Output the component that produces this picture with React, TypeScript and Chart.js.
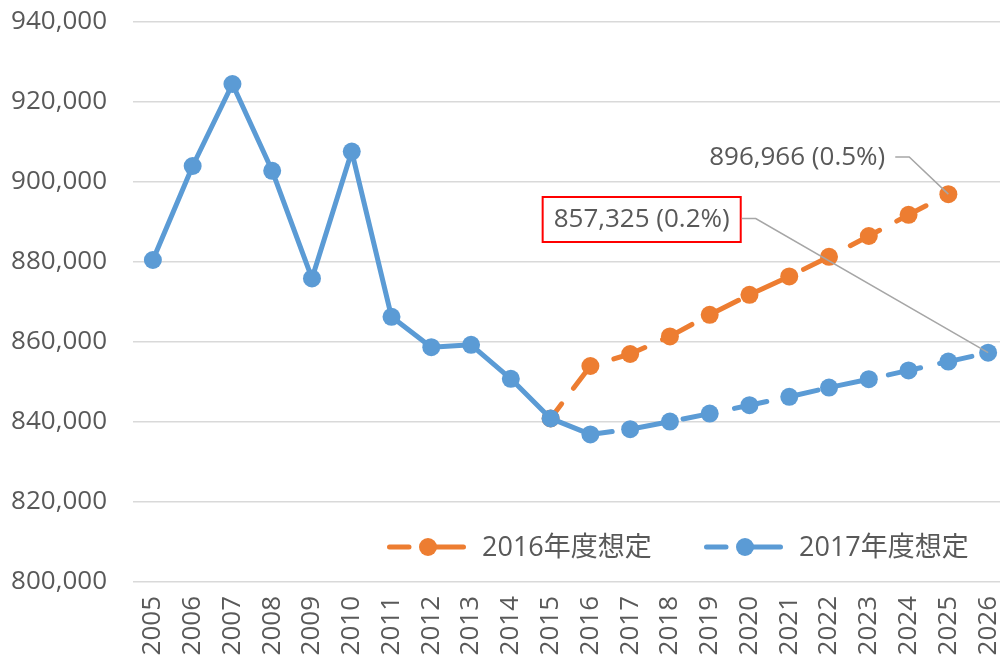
import React, { useEffect, useRef } from 'react';
import { Chart, registerables } from 'chart.js';

Chart.register(...registerables);

// ---- data ----
const years = [
  '2005', '2006', '2007', '2008', '2009', '2010', '2011', '2012', '2013', '2014', '2015',
  '2016', '2017', '2018', '2019', '2020', '2021', '2022', '2023', '2024', '2025', '2026',
];

const plan2016Name = '2016年度想定';
const plan2016 = [
  null, null, null, null, null, null, null, null, null, null, 840900,
  854000, 857000, 861400, 866800, 871800, 876400, 881300, 886500, 891800, 896966, null,
];

const plan2017Name = '2017年度想定';
const plan2017 = [
  880500, 904000, 924500, 902800, 875900, 907600, 866300, 858700, 859300, 850800, 840900,
  836900, 838200, 840100, 842100, 844200, 846300, 848600, 850700, 852900, 855100, 857325,
];

const yMin = 800000;
const yMax = 940000;
const yStep = 20000;

// callouts: which point, its growth text, where the label sits (in data units)
const calloutSeries = [0, 1];
const calloutIndex = [20, 21];
const calloutPct = ['0.5%', '0.2%'];
const calloutLabelX = [16.2, 12.29];
const calloutLabelY = [906000, 890625];
const calloutBoxed = [false, true];

// ---- style ----
const FONT = '"Open Sans", "Noto Sans CJK JP", sans-serif';
const TEXT = '#595959';
const ORANGE = '#ED7D31';
const BLUE = '#5B9BD5';
const DASH = [33, 19.5];

const overlayPlugin = {
  id: 'overlay',
  afterDatasetsDraw(chart: any) {
    const { ctx, scales, chartArea } = chart;
    const x = scales.x;
    const y = scales.y;
    const series = [plan2016, plan2017];
    ctx.save();

    // callouts
    ctx.font = `26px ${FONT}`;
    ctx.textAlign = 'center';
    ctx.textBaseline = 'middle';
    for (let i = 0; i < calloutIndex.length; i++) {
      const val = series[calloutSeries[i]][calloutIndex[i]] as number;
      const px = x.getPixelForValue(calloutIndex[i]);
      const py = y.getPixelForValue(val);
      const lx = x.getPixelForValue(calloutLabelX[i]);
      const ly = y.getPixelForValue(calloutLabelY[i]);
      const text = `${val.toLocaleString('en-US')} (${calloutPct[i]})`;
      const w = ctx.measureText(text).width;
      let rightEdge = lx + w / 2;
      let lineStart = rightEdge + 10;
      if (calloutBoxed[i]) {
        const bw = w + 22;
        const bh = 45;
        ctx.fillStyle = '#FFFFFF';
        ctx.fillRect(lx - bw / 2, ly - bh / 2, bw, bh);
        ctx.strokeStyle = '#FF0000';
        ctx.lineWidth = 2;
        ctx.strokeRect(lx - bw / 2, ly - bh / 2, bw, bh);
        rightEdge = lx + bw / 2;
        lineStart = rightEdge + 1;
      }
      ctx.fillStyle = TEXT;
      ctx.fillText(text, lx, ly);
      ctx.strokeStyle = '#A6A6A6';
      ctx.lineWidth = 1.5;
      ctx.beginPath();
      ctx.moveTo(lineStart, ly - 1);
      ctx.lineTo(lineStart + 14, ly - 1);
      ctx.lineTo(px, py);
      ctx.stroke();
    }

    // legend
    const legendY = chartArea.bottom - 35;
    const items = [
      { name: plan2016Name, color: ORANGE, x0: chartArea.left + 254 },
      { name: plan2017Name, color: BLUE, x0: chartArea.left + 571 },
    ];
    ctx.font = `27px ${FONT}`;
    ctx.textAlign = 'left';
    ctx.textBaseline = 'middle';
    for (const it of items) {
      ctx.strokeStyle = it.color;
      ctx.lineWidth = 5;
      ctx.lineCap = 'round';
      ctx.beginPath();
      ctx.moveTo(it.x0 + 2.5, legendY);
      ctx.lineTo(it.x0 + 22, legendY);
      ctx.moveTo(it.x0 + 41, legendY);
      ctx.lineTo(it.x0 + 76.5, legendY);
      ctx.stroke();
      ctx.fillStyle = it.color;
      ctx.beginPath();
      ctx.arc(it.x0 + 41, legendY, 9, 0, Math.PI * 2);
      ctx.fill();
      ctx.fillStyle = TEXT;
      ctx.fillText(it.name, it.x0 + 95, legendY + 1);
    }
    ctx.restore();
  },
};

const zeroPad = (s: any) => {
  s.paddingLeft = 0;
  s.paddingRight = 0;
  s.paddingTop = 0;
  s.paddingBottom = 0;
};

export default function App() {
  const ref = useRef<HTMLCanvasElement | null>(null);

  useEffect(() => {
    if (!ref.current) return;
    const chart = new Chart(ref.current, {
      type: 'line',
      data: {
        labels: years,
        datasets: [
          {
            label: plan2017Name,
            data: plan2017,
            order: 0,
            borderColor: BLUE,
            backgroundColor: BLUE,
            borderWidth: 5,
            borderCapStyle: 'round',
            borderJoinStyle: 'round',
            pointRadius: 9,
            pointHoverRadius: 9,
            pointBorderWidth: 0,
            pointBackgroundColor: BLUE,
            tension: 0,
            segment: {
              borderDash: (c: any) => (c.p0DataIndex >= 11 ? DASH : undefined),
              borderDashOffset: (c: any) => (c.p0DataIndex >= 11 ? 11 : 0),
            },
          },
          {
            label: plan2016Name,
            data: plan2016,
            order: 1,
            borderColor: ORANGE,
            backgroundColor: ORANGE,
            borderWidth: 5,
            borderCapStyle: 'round',
            borderJoinStyle: 'round',
            borderDash: DASH,
            borderDashOffset: 14.7,
            pointRadius: 9,
            pointHoverRadius: 9,
            pointBorderWidth: 0,
            pointBackgroundColor: ORANGE,
            tension: 0,
          },
        ],
      },
      options: {
        animation: false,
        responsive: false,
        maintainAspectRatio: false,
        layout: { padding: { top: 22, right: 4, left: 0, bottom: 0 } },
        plugins: {
          legend: { display: false },
          tooltip: { enabled: false },
        },
        scales: {
          x: {
            type: 'category',
            offset: true,
            grid: { display: false, drawTicks: false },
            border: { display: false },
            ticks: {
              autoSkip: false,
              minRotation: 90,
              maxRotation: 90,
              padding: 14,
              color: TEXT,
              font: { family: FONT, size: 26 },
            },
            afterFit: (s: any) => {
              s.height = 79;
              zeroPad(s);
            },
          },
          y: {
            min: yMin,
            max: yMax,
            grid: { color: '#D9D9D9', lineWidth: 1.5, drawTicks: false },
            border: { display: false },
            ticks: {
              stepSize: yStep,
              padding: 26,
              color: TEXT,
              font: { family: FONT, size: 26 },
              callback: (v: any) => Number(v).toLocaleString('en-US'),
            },
            afterFit: (s: any) => {
              s.width = 133;
              zeroPad(s);
            },
          },
        },
      },
      plugins: [overlayPlugin],
    } as any);
    return () => chart.destroy();
  }, []);

  return (
    <div
      style={{
        position: 'absolute',
        left: 0,
        top: 0,
        width: 1000,
        height: 661,
        overflow: 'hidden',
        background: '#FFFFFF',
      }}
    >
      <canvas ref={ref} width={1017} height={661} style={{ width: 1017, height: 661, display: 'block' }} />
    </div>
  );
}
